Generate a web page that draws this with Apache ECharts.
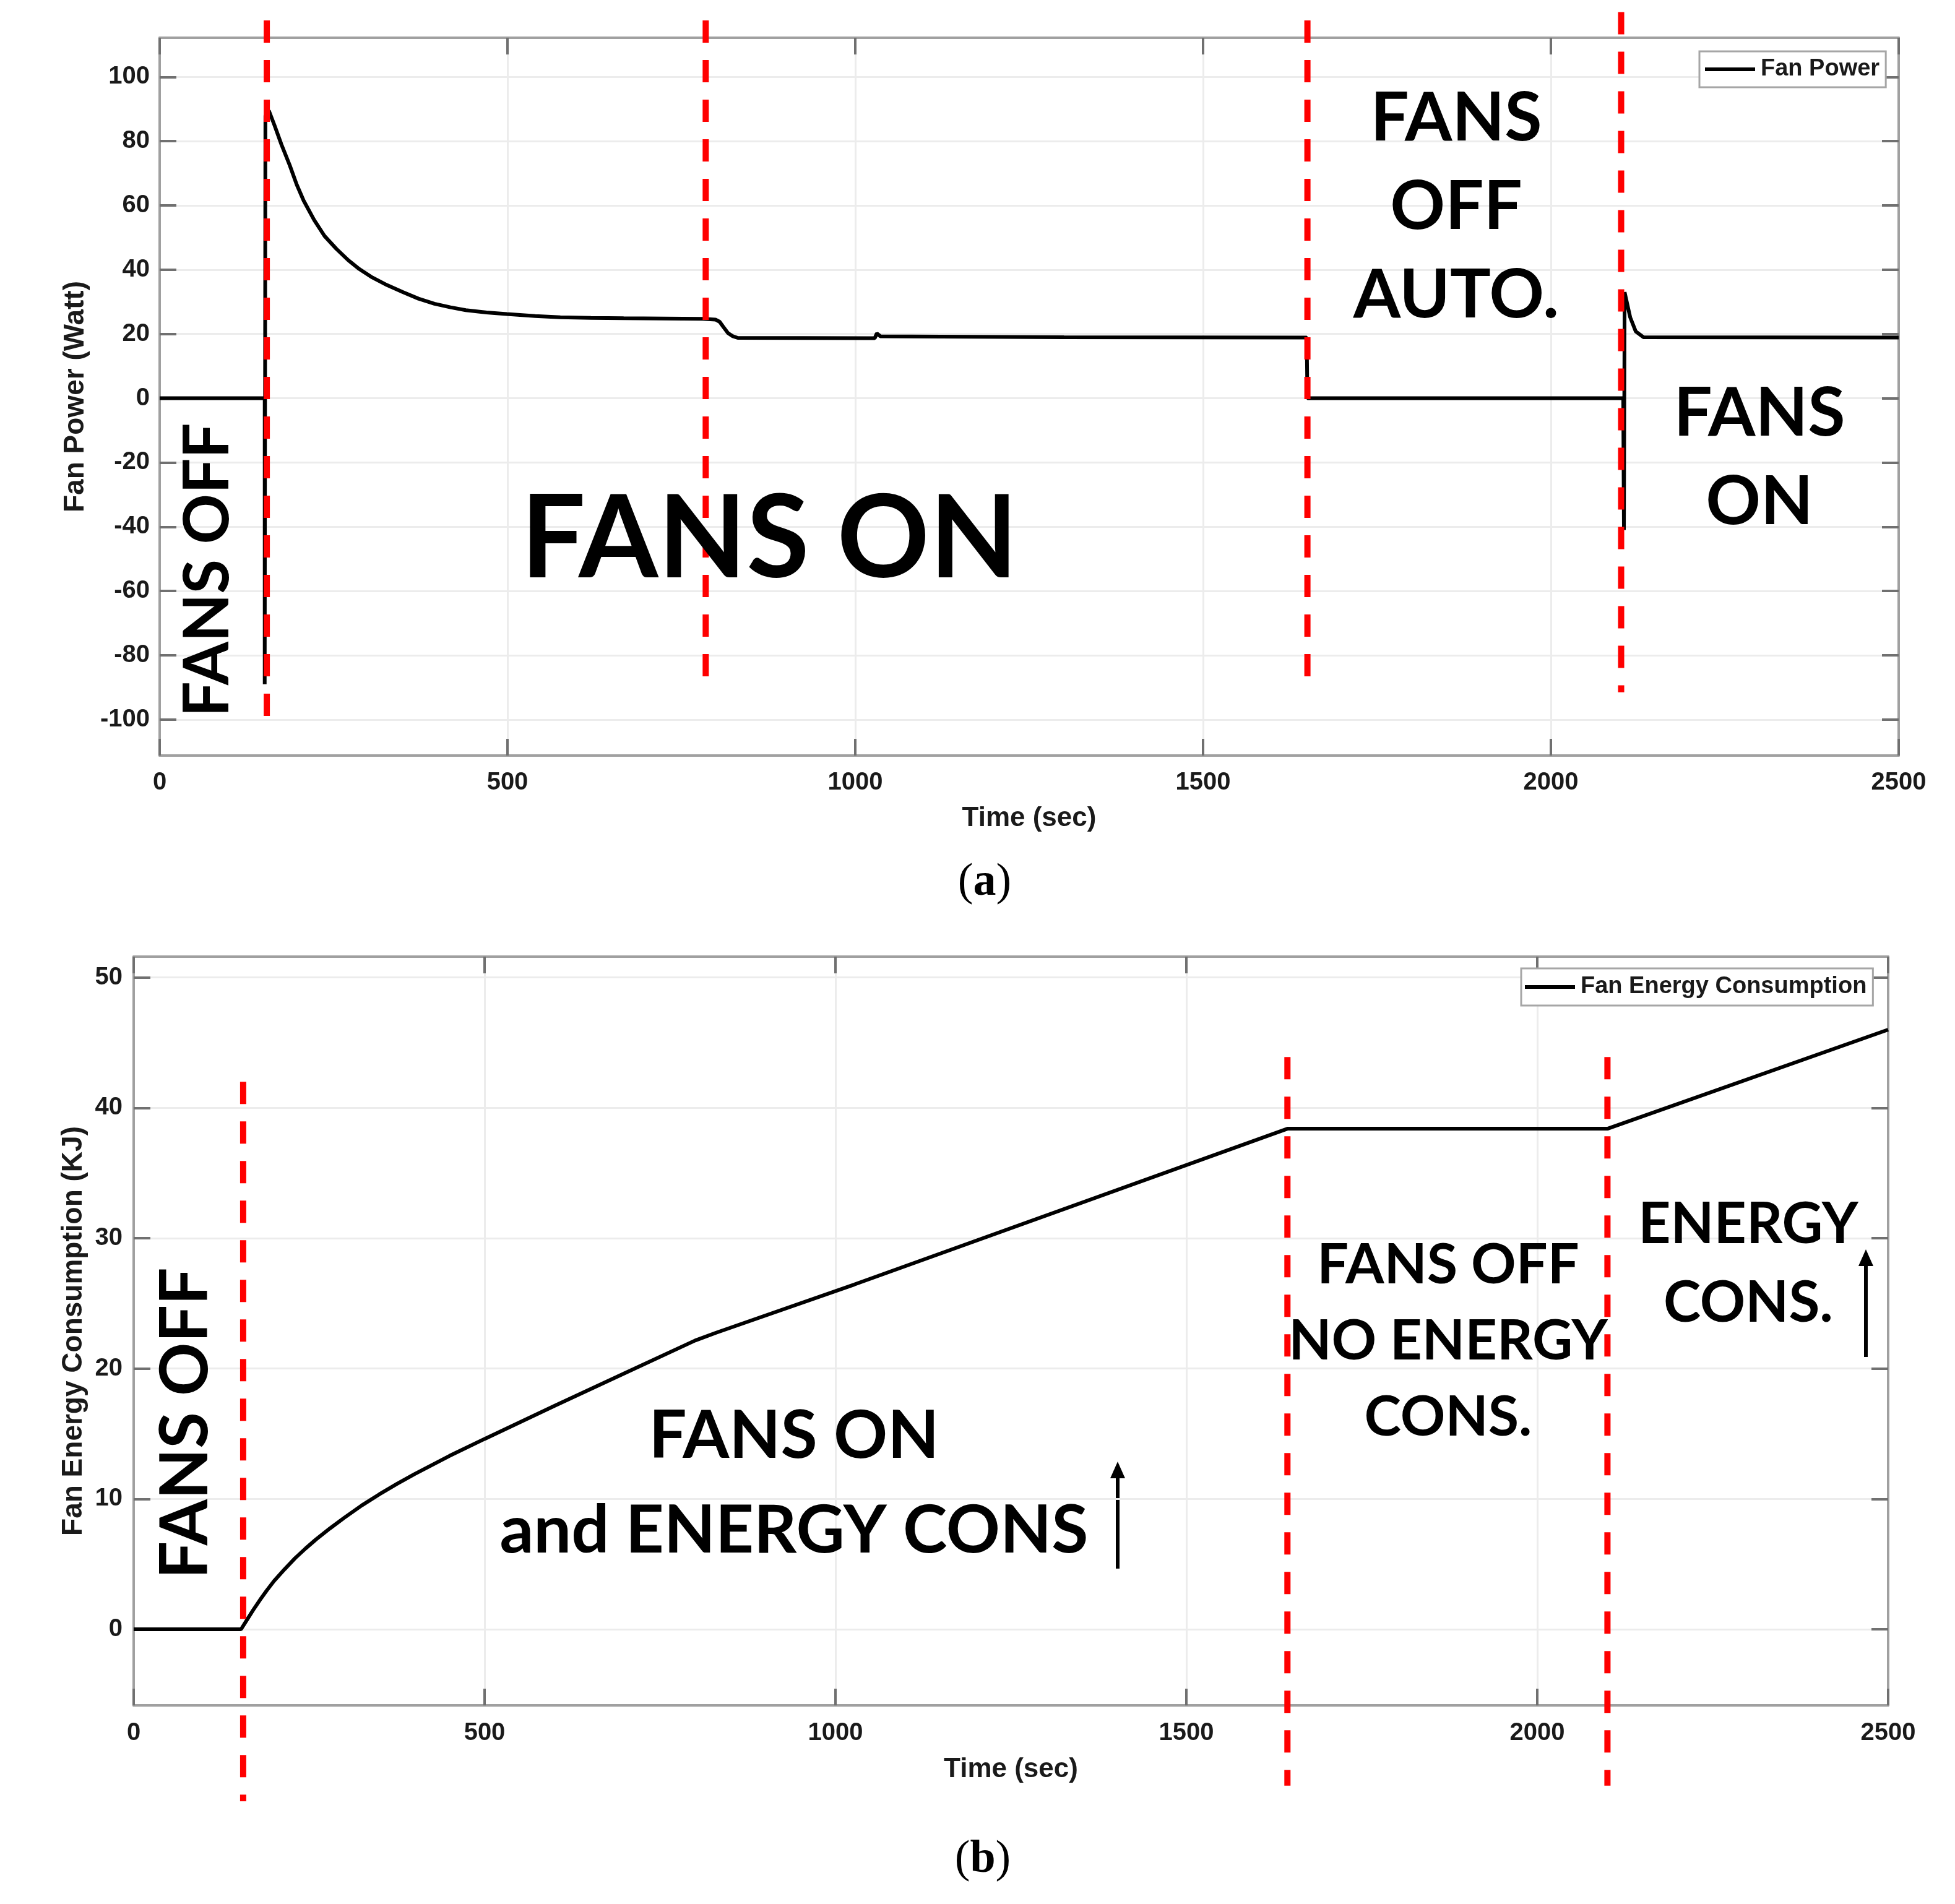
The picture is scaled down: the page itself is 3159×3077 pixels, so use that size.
<!DOCTYPE html>
<html>
<head>
<meta charset="utf-8">
<title>Fan power and fan energy consumption</title>
<script src="https://cdn.jsdelivr.net/npm/echarts@6/dist/echarts.min.js"></script>
<style>
  html, body { margin: 0; padding: 0; background: #ffffff; }
  #main { width: 3159px; height: 3077px; }
</style>
</head>
<body>
<div id="main"></div>
<script>
// (a) fan power in watts
var powerTime  = [0, 151, 151, 152, 157, 165, 175, 187, 197, 207, 222, 237, 254, 271, 287, 304, 327, 350, 372, 395,
                  418, 440, 470, 499, 540, 576, 620, 667, 781, 799, 805, 810, 817, 824, 831, 1016, 1028, 1031, 1036,
                  1300, 1649, 1650, 2104, 2105, 2106, 2114, 2122, 2133, 2500];
var powerValue = [0, 0, -89, 88, 89.5, 85, 79, 72.5, 66.5, 61.5, 55.5, 50.5, 46.5, 43, 40.2, 37.8, 35.2, 33, 31, 29.4,
                  28.3, 27.4, 26.7, 26.2, 25.6, 25.2, 25.0, 24.9, 24.7, 24.5, 23.8, 22.3, 20.3, 19.3, 18.8, 18.7, 18.7, 20.2, 19.3,
                  19.0, 18.9, 0, 0, -41, 33, 25.2, 20.8, 19, 18.9];

// (b) cumulative fan energy in kJ
var energyTime  = [0, 153, 160, 170, 180, 190, 200, 215, 230, 245, 260, 280, 300, 325, 350, 375, 400, 450, 500, 600,
                   700, 800, 830, 1027, 1644, 2100, 2500];
var energyValue = [0, 0, 0.6, 1.45, 2.25, 3.0, 3.7, 4.6, 5.45, 6.2, 6.9, 7.75, 8.55, 9.5, 10.35, 11.15, 11.9, 13.3, 14.6, 17.15,
                   19.65, 22.15, 22.75, 26.45, 38.4, 38.4, 46.0];

var timeTicks   = [0, 500, 1000, 1500, 2000, 2500];
var powerTicks  = [-100, -80, -60, -40, -20, 0, 20, 40, 60, 80, 100];
var energyTicks = [0, 10, 20, 30, 40, 50];

// red dashed phase markers: time, top end, bottom end
var powerMarkTime    = [154, 785, 1650, 2101];
var powerMarkTop     = [117.6, 117.6, 117.6, 120.2];
var powerMarkBottom  = [-103.9, -91.3, -91.5, -91.5];
var energyMarkTime   = [156, 1644, 2100];
var energyMarkTop    = [42.0, 43.9, 43.9];
var energyMarkBottom = [-13.2, -12.0, -12.0];

var axisGray = '#a0a0a0';
var tickGray = '#707070';
var gridGray = '#ececec';
var tickFont = { fontFamily: 'Liberation Sans', fontWeight: 'bold', fontSize: 40, color: '#1a1a1a' };
var nameFont = { fontFamily: 'Liberation Sans', fontWeight: 'bold', fontSize: 46, color: '#1a1a1a' };
var noteFont = 'Lato';

function pairs(xs, ys) {
    return xs.map(function (x, i) { return [x, ys[i]]; });
}

function plain(v) {
    return String(v);
}

function timeAxis(grid, nameGap, labelMargin) {
    return {
        type: 'value', gridIndex: grid, min: 0, max: 2500, interval: 500,
        name: 'Time (sec)', nameLocation: 'middle', nameGap: nameGap,
        nameTextStyle: Object.assign({}, nameFont, { fontSize: 44 }),
        axisLine: { show: true, onZero: false, lineStyle: { color: axisGray, width: 4 } },
        axisTick: { show: true, inside: true, length: 27, lineStyle: { color: tickGray, width: 4 } },
        axisLabel: Object.assign({ margin: labelMargin, formatter: plain, customValues: timeTicks }, tickFont),
        splitLine: { show: true, lineStyle: { color: gridGray, width: 3 } }
    };
}

function timeAxisTop(grid) {
    return {
        type: 'value', gridIndex: grid, position: 'top', min: 0, max: 2500, interval: 500,
        axisLine: { show: true, onZero: false, lineStyle: { color: axisGray, width: 4 } },
        axisTick: { show: true, inside: true, length: 27, lineStyle: { color: tickGray, width: 4 } },
        axisLabel: { show: false },
        splitLine: { show: false }
    };
}

function valueAxis(grid, min, max, ticks, name, nameGap, labelMargin) {
    return {
        type: 'value', gridIndex: grid, min: min, max: max,
        name: name, nameLocation: 'middle', nameGap: nameGap, nameTextStyle: nameFont,
        axisLine: { show: true, onZero: false, lineStyle: { color: axisGray, width: 4 } },
        axisTick: { show: true, inside: true, length: 27, customValues: ticks, lineStyle: { color: tickGray, width: 4 } },
        axisLabel: Object.assign({ margin: labelMargin, customValues: ticks, formatter: plain }, tickFont),
        splitLine: { show: true, lineStyle: { color: gridGray, width: 3 } }
    };
}

function valueAxisRight(grid, min, max, ticks) {
    return {
        type: 'value', gridIndex: grid, position: 'right', min: min, max: max,
        axisLine: { show: true, onZero: false, lineStyle: { color: axisGray, width: 4 } },
        axisTick: { show: true, inside: true, length: 27, customValues: ticks, lineStyle: { color: tickGray, width: 4 } },
        axisLabel: { show: false },
        splitLine: { show: false }
    };
}

function dashedMarks(times, tops, bottoms, axisIndex) {
    return times.map(function (t, i) {
        return {
            type: 'line', xAxisIndex: axisIndex, yAxisIndex: axisIndex,
            data: [[t, tops[i]], [t, bottoms[i]]],
            symbol: 'none', clip: false, silent: true, z: 5,
            lineStyle: { color: '#ff0000', width: 10, type: [36, 28] }
        };
    });
}

function note(text, x, y, size, lineHeight, rotation) {
    return {
        type: 'text', x: x, y: y, rotation: rotation || 0, z: 20, silent: true,
        style: {
            text: text, fill: '#000000', fontFamily: noteFont, fontWeight: 'bold', fontSize: size,
            lineHeight: lineHeight || size, align: 'center', verticalAlign: 'middle'
        }
    };
}

function upArrow(x, yTip, yEnd) {
    return {
        type: 'group', z: 20, silent: true,
        children: [
            { type: 'line', shape: { x1: x, y1: yEnd, x2: x, y2: yTip + 20 }, style: { stroke: '#000', lineWidth: 6 } },
            { type: 'polygon', shape: { points: [[x, yTip], [x - 12, yTip + 27], [x + 12, yTip + 27]] }, style: { fill: '#000' } }
        ]
    };
}

function panelTag(letter, x, y) {
    return {
        type: 'text', x: x, y: y, silent: true,
        style: {
            text: '{p|(}{b|' + letter + '}{p|)}', align: 'center', verticalAlign: 'middle',
            rich: {
                p: { fontFamily: 'Liberation Serif', fontSize: 74, fill: '#000' },
                b: { fontFamily: 'Liberation Serif', fontWeight: 'bold', fontSize: 74, fill: '#000' }
            }
        }
    };
}

var legendBase = {
    orient: 'horizontal', icon: 'rect', itemWidth: 81, itemHeight: 6, selectedMode: false,
    backgroundColor: '#ffffff', borderColor: '#a6a6a6', borderWidth: 3, borderRadius: 0,
    itemStyle: { color: '#000000', borderWidth: 0 },
    textStyle: { fontFamily: 'Liberation Sans', fontWeight: 'bold', fontSize: 38, color: '#1a1a1a', padding: [0, 0, 0, 4] }
};

var chart = echarts.init(document.getElementById('main'), null, { renderer: 'canvas' });

var option = {
    backgroundColor: '#ffffff',
    animation: false,
    grid: [
        { left: 258, top: 61, width: 2810, height: 1160 },
        { left: 216, top: 1546, width: 2835, height: 1210 }
    ],
    xAxis: [timeAxis(0, 80, 24), timeAxis(1, 82, 25), timeAxisTop(0), timeAxisTop(1)],
    yAxis: [
        valueAxis(0, -111.2, 112.2, powerTicks, 'Fan Power (Watt)', 113, 16),
        valueAxis(1, -5.84, 51.6, energyTicks, 'Fan Energy Consumption (KJ)', 74, 18),
        valueAxisRight(0, -111.2, 112.2, powerTicks),
        valueAxisRight(1, -5.84, 51.6, energyTicks)
    ],
    legend: [
        Object.assign({}, legendBase, { data: ['Fan Power'], left: 2746, top: 83, padding: [10, 10, 10, 9] }),
        Object.assign({}, legendBase, { data: ['Fan Energy Consumption'], left: 2458, top: 1565, padding: [11, 10, 11, 6] })
    ],
    series: [
        {
            name: 'Fan Power', type: 'line', xAxisIndex: 0, yAxisIndex: 0,
            data: pairs(powerTime, powerValue), symbol: 'none', smooth: false, z: 3,
            lineStyle: { color: '#000000', width: 6 }, itemStyle: { color: '#000000' }
        },
        {
            name: 'Fan Energy Consumption', type: 'line', xAxisIndex: 1, yAxisIndex: 1,
            data: pairs(energyTime, energyValue), symbol: 'none', smooth: false, z: 3,
            lineStyle: { color: '#000000', width: 6 }, itemStyle: { color: '#000000' }
        }
    ].concat(dashedMarks(powerMarkTime, powerMarkTop, powerMarkBottom, 0))
     .concat(dashedMarks(energyMarkTime, energyMarkTop, energyMarkBottom, 1)),
    graphic: [
        // panel (a) notes
        note('FANS OFF', 336, 921, 101, 101, Math.PI / 2),
        note('FANS ON', 1243, 873, 185),
        note('FANS\nOFF\nAUTO.', 2353, 335, 110, 143),
        note('FANS\nON', 2843, 740, 110, 143),
        // panel (b) notes
        note('FANS OFF', 300, 2300, 107, 107, Math.PI / 2),
        note('FANS ON\nand ENERGY CONS', 1283, 2398, 108, 153),
        note('FANS OFF\nNO ENERGY\nCONS.', 2340, 2168, 90, 123),
        note('ENERGY\nCONS.', 2825, 2043, 91, 127),
        upArrow(1806, 2362, 2535),
        upArrow(3015, 2019, 2193),
        panelTag('a', 1591, 1427),
        panelTag('b', 1588, 3006)
    ]
};

chart.setOption(option);
</script>
</body>
</html>
